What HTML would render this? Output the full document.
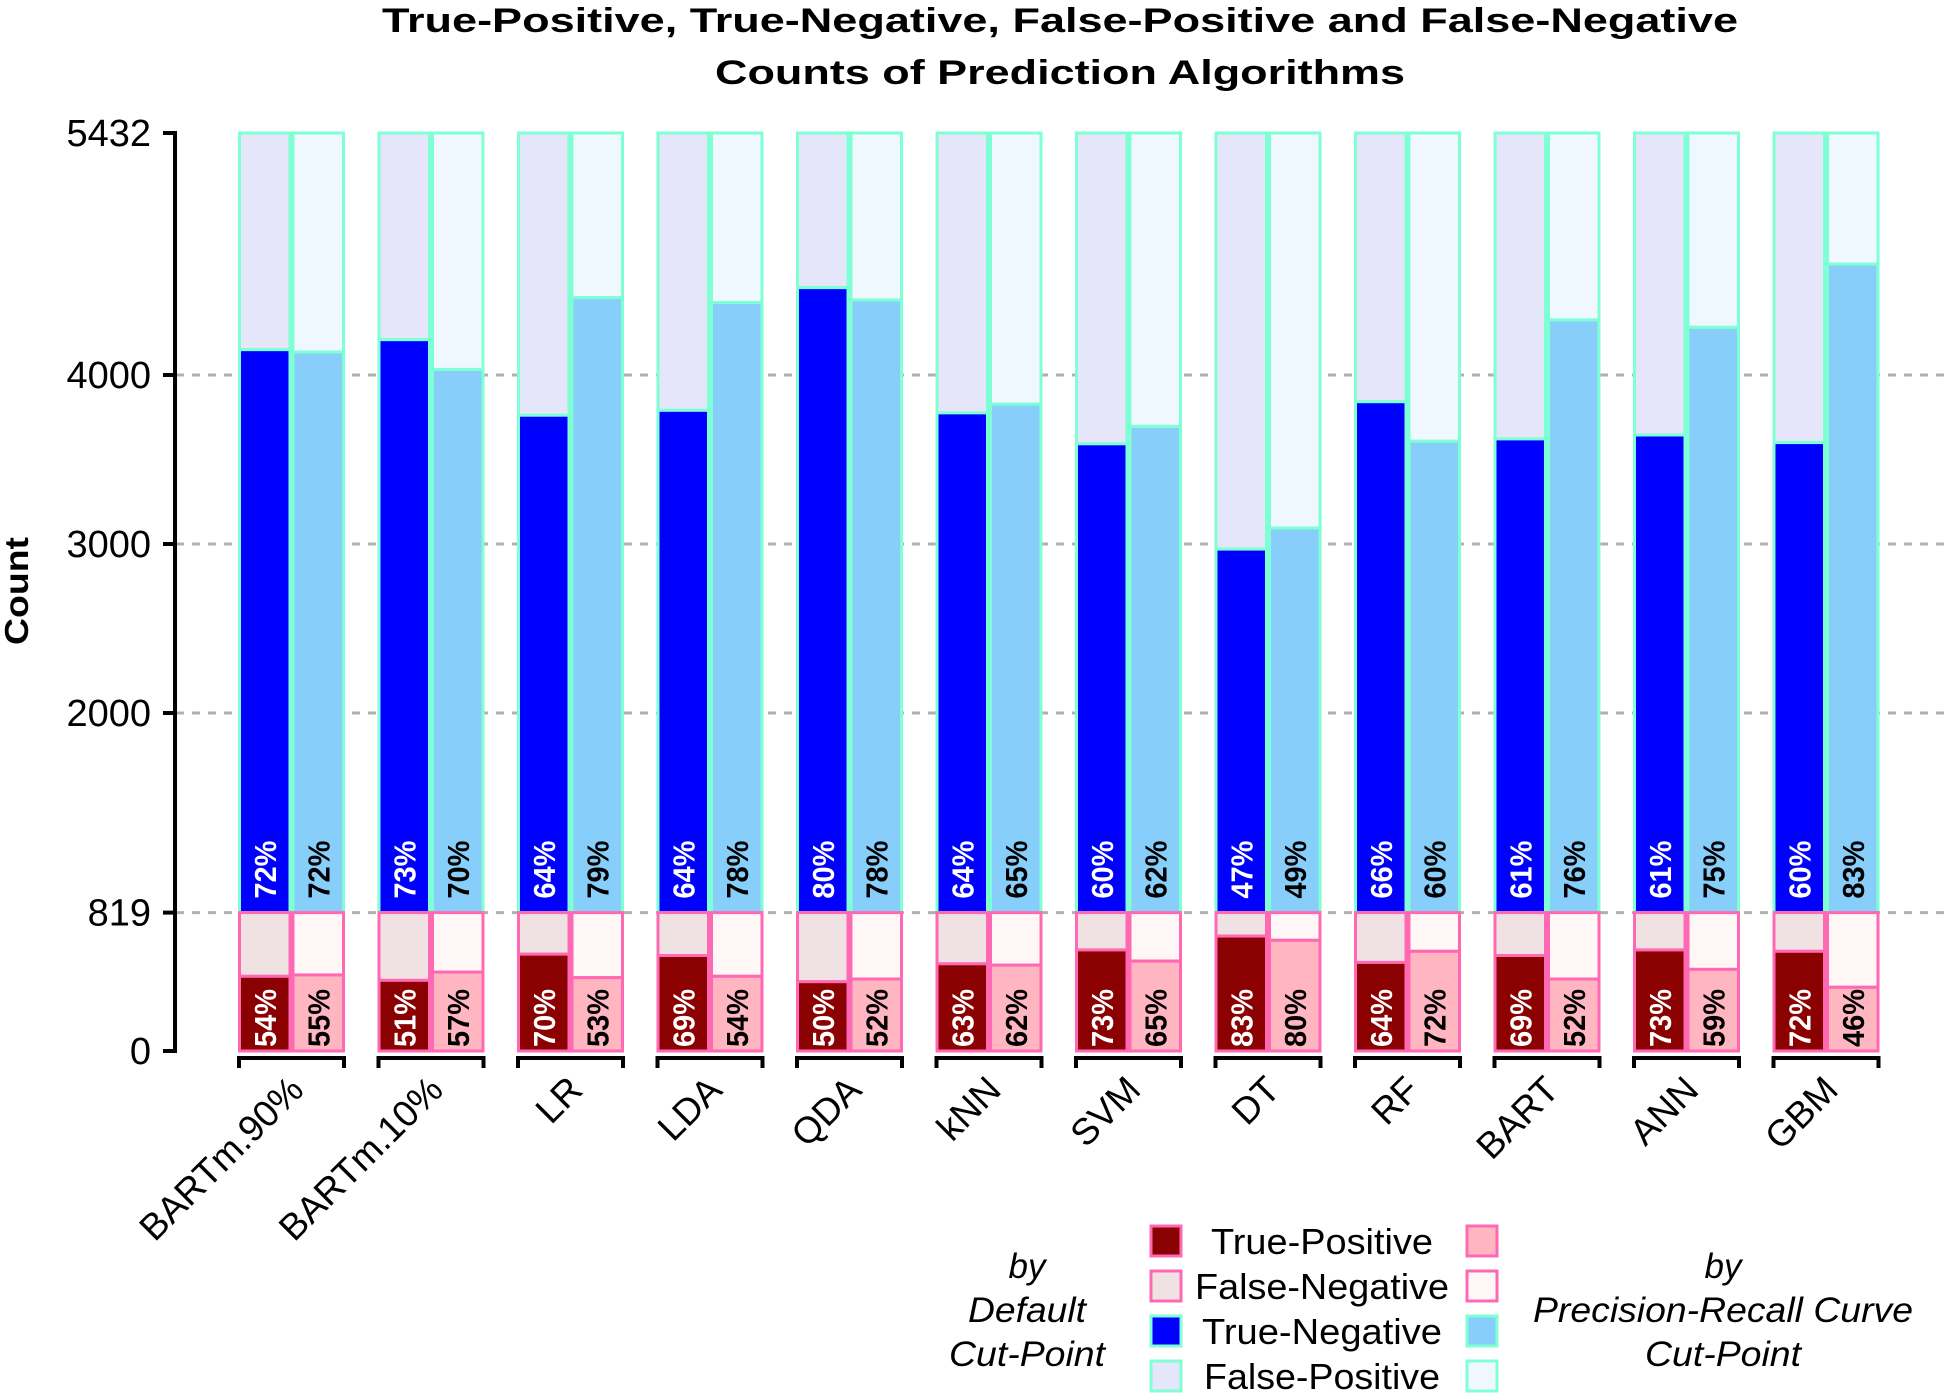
<!DOCTYPE html>
<html><head><meta charset="utf-8"><style>
html,body{margin:0;padding:0;background:#fff;}
svg{display:block;font-family:"Liberation Sans",Arial,sans-serif;}
</style></head><body>
<svg id="chart" width="1944" height="1396" viewBox="0 0 1944 1396">
<g id="title">
<text x="1060" y="32" text-anchor="middle" font-weight="bold" font-size="34" textLength="1356" lengthAdjust="spacingAndGlyphs">True-Positive, True-Negative, False-Positive and False-Negative</text>
<text x="1060" y="84" text-anchor="middle" font-weight="bold" font-size="34" textLength="690" lengthAdjust="spacingAndGlyphs">Counts of Prediction Algorithms</text>
</g>
<text transform="translate(28,591) rotate(-90)" text-anchor="middle" font-weight="bold" font-size="33" textLength="108" lengthAdjust="spacingAndGlyphs">Count</text>
<g id="grid"></g><g id="bars"></g><g id="yaxis"></g><g id="xaxis"></g>
<g id="legend">
<text font-style="italic" font-size="35" text-anchor="middle"><tspan x="1027" y="1278">by</tspan><tspan x="1027" y="1322" textLength="118" lengthAdjust="spacingAndGlyphs">Default</tspan><tspan x="1027" y="1366" textLength="156" lengthAdjust="spacingAndGlyphs">Cut-Point</tspan></text>
<text font-style="italic" font-size="35" text-anchor="middle"><tspan x="1723" y="1278">by</tspan><tspan x="1723" y="1322" textLength="380" lengthAdjust="spacingAndGlyphs">Precision-Recall Curve</tspan><tspan x="1723" y="1366" textLength="156" lengthAdjust="spacingAndGlyphs">Cut-Point</tspan></text>
</g>
</svg>
<script>
const categories=["BARTm.90%","BARTm.10%","LR","LDA","QDA","kNN","SVM","DT","RF","BART","ANN","GBM"];
const tnDefault=[3331,3390,2943,2972,3698,2957,2774,2151,3023,2803,2826,2781];
const tnPR=[3317,3214,3639,3610,3625,3009,2877,2275,2789,3507,3463,3837];
const tpDefault=[442,418,573,565,410,516,598,680,524,565,598,590];
const tpPR=[450,467,434,442,426,508,532,655,590,426,483,377];
const tnDefaultLabels=["72%","73%","64%","64%","80%","64%","60%","47%","66%","61%","61%","60%"];
const tnPRLabels=["72%","70%","79%","78%","78%","65%","62%","49%","60%","76%","75%","83%"];
const tpDefaultLabels=["54%","51%","70%","69%","50%","63%","73%","83%","64%","69%","73%","72%"];
const tpPRLabels=["55%","57%","53%","54%","52%","62%","65%","80%","72%","52%","59%","46%"];
const posTotal=819, total=5432;
const yTicks=[0,819,2000,3000,4000,5432];
const gridTicks=[819,2000,3000,4000];

const NS="http://www.w3.org/2000/svg";
const Y0=1051,Y1=133;
function y(v){return Y0-(v/total)*(Y0-Y1);}
const G0=238,PITCH=139.5,BW=53.5;
function xb(i,k){return G0+i*PITCH+k*BW;}
function mk(tag,attrs,parent){const e=document.createElementNS(NS,tag);for(const a in attrs)e.setAttribute(a,attrs[a]);parent.appendChild(e);return e;}

const grid=document.getElementById('grid');
gridTicks.forEach(t=>{
  const l=mk('line',{x1:176,x2:1944,y1:y(t),y2:y(t),stroke:'#b0b0b0','stroke-width':3,'stroke-dasharray':'8,8'},grid);
  
  
});

const bars=document.getElementById('bars');
const styles=[
 {tp:'#8B0000',fn:'#F0E2E2',tn:'#0000FF',fp:'#E6E6FA',txt:'#ffffff'},
 {tp:'#FFB6C1',fn:'#FFF6F6',tn:'#87CEFA',fp:'#F0F8FF',txt:'#000000'}
];
function rect(x,y1v,y2v,fill,stroke,name,parent){
  const r=mk('rect',{x:x+1.5,y:y(y2v),width:BW-3,height:y(y1v)-y(y2v),fill:fill,stroke:stroke,'stroke-width':3},parent);
  
  
}
function label(x,yb,txt,color,name,parent){
  const t=mk('text',{transform:`translate(${x+BW/2+11},${yb}) rotate(-90)`,fill:color,'font-size':31,'font-weight':'bold',textLength:58,lengthAdjust:'spacingAndGlyphs'},parent);
  t.textContent=txt;
  
  
}
categories.forEach((c,i)=>{
  const g=mk('g',{},bars);
  
  
  [[tnDefault,tpDefault,tnDefaultLabels,tpDefaultLabels],[tnPR,tpPR,tnPRLabels,tpPRLabels]].forEach((s,k)=>{
    const st=styles[k],x=xb(i,k),kind=k?'pr':'default';
    const tn=s[0][i],tp=s[1][i];
    rect(x,posTotal+tn,total,st.fp,'#7FFFD4','bar-fp-'+kind,g);
    rect(x,posTotal,posTotal+tn,st.tn,'#7FFFD4','bar-tn-'+kind,g);
    rect(x,tp,posTotal,st.fn,'#FF69B4','bar-fn-'+kind,g);
    rect(x,0,tp,st.tp,'#FF69B4','bar-tp-'+kind,g);
    label(x,y(posTotal)-14,s[2][i],st.txt,'tn-percent-label',g);
    label(x,y(0)-4,s[3][i],st.txt,'tp-percent-label',g);
  });
});

const ya=document.getElementById('yaxis');
const axl=mk('line',{x1:175,x2:175,y1:y(0),y2:y(total),stroke:'#000','stroke-width':4},ya);


yTicks.forEach(t=>{
  const tk=mk('line',{x1:163,x2:177,y1:y(t),y2:y(t),stroke:'#000','stroke-width':4},ya);
  
  
  const tx=mk('text',{x:151,y:y(t)+13,'text-anchor':'end','font-size':38},ya);
  tx.textContent=t;
  
  
});

const xa=document.getElementById('xaxis');
categories.forEach((c,i)=>{
  const x0=xb(i,0)+1,x1=xb(i,1)+BW-1;
  const p=mk('path',{d:`M${x0},1068 V1058 H${x1} V1068`,fill:'none',stroke:'#000','stroke-width':4},xa);
  
  
  const cx=xb(i,1);
  const t=mk('text',{transform:`translate(${cx+14},1092) rotate(-45)`,'text-anchor':'end','font-size':37},xa);
  t.textContent=c;
  
  
});

const leg=document.getElementById('legend');
const entries=["True-Positive","False-Negative","True-Negative","False-Positive"];
const legLens=[222,254,240,236];
const lk=['tp','fn','tn','fp'];
const ly=[1241,1286,1331,1376];
entries.forEach((e,j)=>{
  const stroke=j<2?'#FF69B4':'#7FFFD4';
  [1166,1482].forEach((kx,k)=>{
    const r=mk('rect',{x:kx-15,y:ly[j]-15,width:30,height:30,fill:styles[k][lk[j]],stroke:stroke,'stroke-width':3},leg);
    
    
  });
  const t=mk('text',{x:1322,y:ly[j]+13,'text-anchor':'middle','font-size':36,textLength:legLens[j],lengthAdjust:'spacingAndGlyphs'},leg);
  t.textContent=e;
  
  
});
</script>
</body></html>
